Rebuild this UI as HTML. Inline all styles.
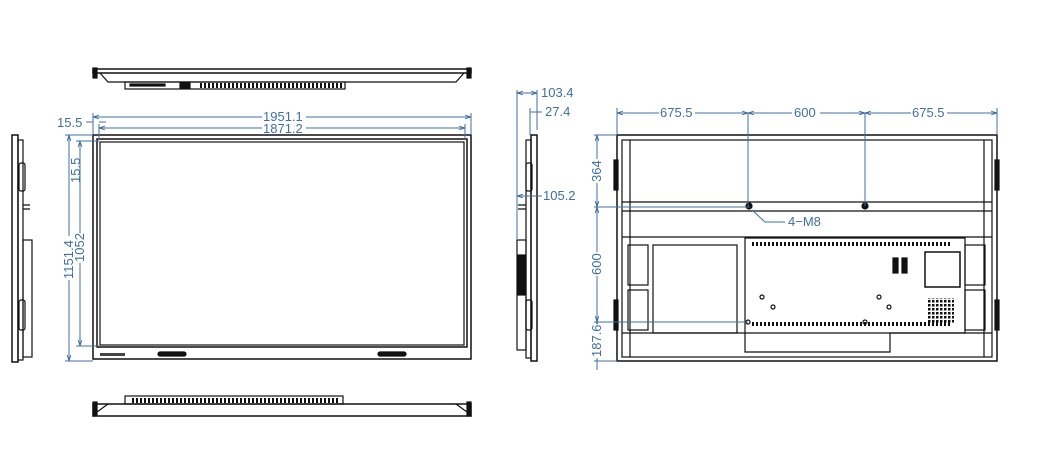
<!DOCTYPE html>
<html><head><meta charset="utf-8"><style>
html,body{margin:0;padding:0;background:#fff;width:1039px;height:458px;overflow:hidden}
svg{display:block}
text{font-family:"Liberation Sans",sans-serif;font-size:13px;fill:#3f6fa3}
</style></head><body>
<svg width="1039" height="458" viewBox="0 0 1039 458" xmlns="http://www.w3.org/2000/svg">
<defs>
<marker id="a" viewBox="0 0 10 10" refX="10" refY="5" markerWidth="6" markerHeight="6" orient="auto-start-reverse"><path d="M0,2 L10,5 L0,8" fill="none" stroke="#3f6fa3" stroke-width="1.5"/></marker>
<pattern id="vent" width="4" height="10" patternUnits="userSpaceOnUse"><rect x="0" y="0" width="2" height="10" fill="#111"/></pattern>
<pattern id="grid" width="4" height="4" patternUnits="userSpaceOnUse"><rect x="0" y="0" width="2.5" height="2.5" fill="#111"/></pattern>
</defs>
<g fill="none" stroke="#111" stroke-width="1.2">
<rect x="93" y="69" width="378" height="4" stroke-width="1.5"/>
<path d="M100,73 L108,82 L456,82 L464,73"/>
<rect x="93" y="68" width="4" height="10" fill="#111"/><rect x="467" y="68" width="4" height="10" fill="#111"/>
<rect x="125" y="82" width="220" height="7"/>
<rect x="200" y="83" width="142" height="5" fill="url(#vent)" stroke="none"/>
<rect x="130" y="84" width="35" height="2" fill="#111"/>
<rect x="180" y="83" width="10" height="5" fill="#111"/>
<rect x="93" y="135" width="378" height="224" stroke-width="1.5"/>
<rect x="97" y="139" width="370" height="208" stroke-width="1.5"/>
<rect x="100" y="142" width="364" height="203"/>
<rect x="158" y="352" width="28" height="4" rx="2" fill="#111"/>
<rect x="378" y="352" width="28" height="4" rx="2" fill="#111"/>
<rect x="100" y="353" width="25" height="3" fill="#444" stroke="none"/>
<rect x="93" y="404" width="378" height="12" stroke-width="1.5"/>
<path d="M97,412 L108,404 M467,412 L456,404"/>
<rect x="93" y="402" width="4" height="14" fill="#111"/><rect x="467" y="402" width="4" height="14" fill="#111"/>
<rect x="125" y="396" width="218" height="8"/>
<rect x="130" y="398" width="210" height="5" fill="url(#vent)" stroke="none"/>
<rect x="12" y="135" width="6" height="227" stroke-width="1.5"/>
<rect x="18" y="140" width="5" height="220"/>
<rect x="23" y="240" width="9" height="117"/>
<rect x="19" y="163" width="6" height="28" rx="2"/>
<rect x="19" y="300" width="6" height="30" rx="2"/>
<path d="M23,205 L30,205 M23,209 L30,209"/>
<rect x="531" y="135" width="6" height="226" stroke-width="1.5"/>
<rect x="526" y="140" width="5" height="218"/>
<rect x="517" y="240" width="9" height="110"/>
<rect x="518" y="255" width="7" height="40" fill="#111"/>
<rect x="526" y="163" width="6" height="28" rx="2"/>
<rect x="526" y="300" width="6" height="30" rx="2"/>
<path d="M518,205 L526,205 M518,209 L526,209"/>
<rect x="617" y="135" width="380" height="226" stroke-width="1.5"/>
<rect x="622" y="140" width="370" height="217"/>
<path d="M630,140 L630,357 M984,140 L984,357"/>
<path d="M622,202 L992,202 M622,211 L992,211 M622,237 L992,237"/>
<path d="M622,333 L992,333"/>
<rect x="628" y="245" width="20" height="40"/><rect x="628" y="290" width="20" height="40"/>
<rect x="965" y="245" width="20" height="40"/><rect x="965" y="290" width="20" height="40"/>
<rect x="653" y="245" width="84" height="88"/>
<path d="M745,238 L965,238 L965,333 L890,333 L890,352 L745,352 Z"/>
<rect x="752" y="242" width="200" height="4" fill="url(#vent)" stroke="none"/>
<rect x="752" y="322" width="200" height="4" fill="url(#vent)" stroke="none"/>
<rect x="893" y="258" width="5" height="15" fill="#111"/><rect x="902" y="258" width="5" height="15" fill="#111"/>
<rect x="925" y="252" width="35" height="35" stroke-width="1.5"/>
<rect x="928" y="298" width="26" height="26" fill="url(#grid)" stroke="none"/>
<circle cx="762" cy="297" r="2"/><circle cx="773" cy="307" r="2"/><circle cx="879" cy="297" r="2"/><circle cx="889" cy="307" r="2"/>
<circle cx="749" cy="206" r="3" fill="#111"/><circle cx="865" cy="206" r="3" fill="#111"/>
<circle cx="748" cy="322" r="2"/><circle cx="865" cy="322" r="2"/>
<rect x="614" y="160" width="4" height="30" fill="#111"/><rect x="614" y="300" width="4" height="30" fill="#111"/>
<rect x="995" y="160" width="4" height="30" fill="#111"/><rect x="995" y="300" width="4" height="30" fill="#111"/>
</g>
<g fill="none" stroke="#3f6fa3" stroke-width="1">
<path d="M93,113 L93,135 M471,113 L471,135 M99,124 L99,140 M465,124 L465,140"/>
<path d="M93,117 L471,117" marker-start="url(#a)" marker-end="url(#a)"/>
<path d="M99,128 L465,128" marker-start="url(#a)" marker-end="url(#a)"/>
<path d="M86,122 L93,122 M99,122 L106,122"/>
<path d="M65,135 L93,135 M65,361 L93,361 M76,141 L99,141 M76,346 L99,346"/>
<path d="M69,135 L69,361" marker-start="url(#a)" marker-end="url(#a)"/>
<path d="M80,141 L80,346" marker-start="url(#a)" marker-end="url(#a)"/>
<path d="M517,90 L517,240 M537,90 L537,130 M530,108 L530,135"/>
<path d="M517,93 L537,93" marker-start="url(#a)" marker-end="url(#a)"/>
<path d="M530,112 L537,112 M537,112 L542,112"/>
<path d="M517,196 L542,196" marker-start="url(#a)"/>
<path d="M617,108 L617,135 M997,108 L997,135"/>
<path d="M617,113 L748,113" marker-start="url(#a)" marker-end="url(#a)"/>
<path d="M748,113 L865,113" marker-start="url(#a)" marker-end="url(#a)"/>
<path d="M865,113 L997,113" marker-start="url(#a)" marker-end="url(#a)"/>
<path d="M748,113 L748,206 M865,113 L865,206"/>
<path d="M594,135 L617,135 M594,207 L750,207 M594,322 L748,322 M594,361 L617,361"/>
<path d="M597,135 L597,207" marker-start="url(#a)" marker-end="url(#a)"/>
<path d="M597,207 L597,322" marker-start="url(#a)" marker-end="url(#a)"/>
<path d="M597,322 L597,370" marker-start="url(#a)"/>
<path d="M752,210 L765,222 L785,222"/>
</g>
<g>
<rect x="262" y="110" width="44" height="12" fill="#fff"/><text x="263" y="121">1951.1</text>
<rect x="262" y="122" width="44" height="12" fill="#fff"/><text x="263" y="133">1871.2</text>
<text x="57" y="127">15.5</text>
<g transform="translate(80,170) rotate(-90)"><text x="-13" y="0">15.5</text></g>
<g transform="translate(73,258) rotate(-90)"><rect x="-22" y="-10" width="44" height="12" fill="#fff"/><text x="-21" y="0">1151.4</text></g>
<g transform="translate(84,248) rotate(-90)"><rect x="-15" y="-10" width="30" height="12" fill="#fff"/><text x="-14" y="0">1052</text></g>
<text x="541" y="97">103.4</text>
<text x="545" y="116">27.4</text>
<text x="543" y="200">105.2</text>
<rect x="659" y="107" width="36" height="12" fill="#fff"/><text x="660" y="117">675.5</text>
<rect x="792" y="107" width="28" height="12" fill="#fff"/><text x="794" y="117">600</text>
<rect x="911" y="107" width="36" height="12" fill="#fff"/><text x="912" y="117">675.5</text>
<text x="788" y="226">4−M8</text>
<g transform="translate(601,171) rotate(-90)"><rect x="-12" y="-10" width="24" height="12" fill="#fff"/><text x="-11" y="0">364</text></g>
<g transform="translate(601,264) rotate(-90)"><rect x="-12" y="-10" width="24" height="12" fill="#fff"/><text x="-11" y="0">600</text></g>
<g transform="translate(601,341) rotate(-90)"><rect x="-17" y="-10" width="34" height="12" fill="#fff"/><text x="-16" y="0">187.6</text></g>
</g>
</svg>
</body></html>
